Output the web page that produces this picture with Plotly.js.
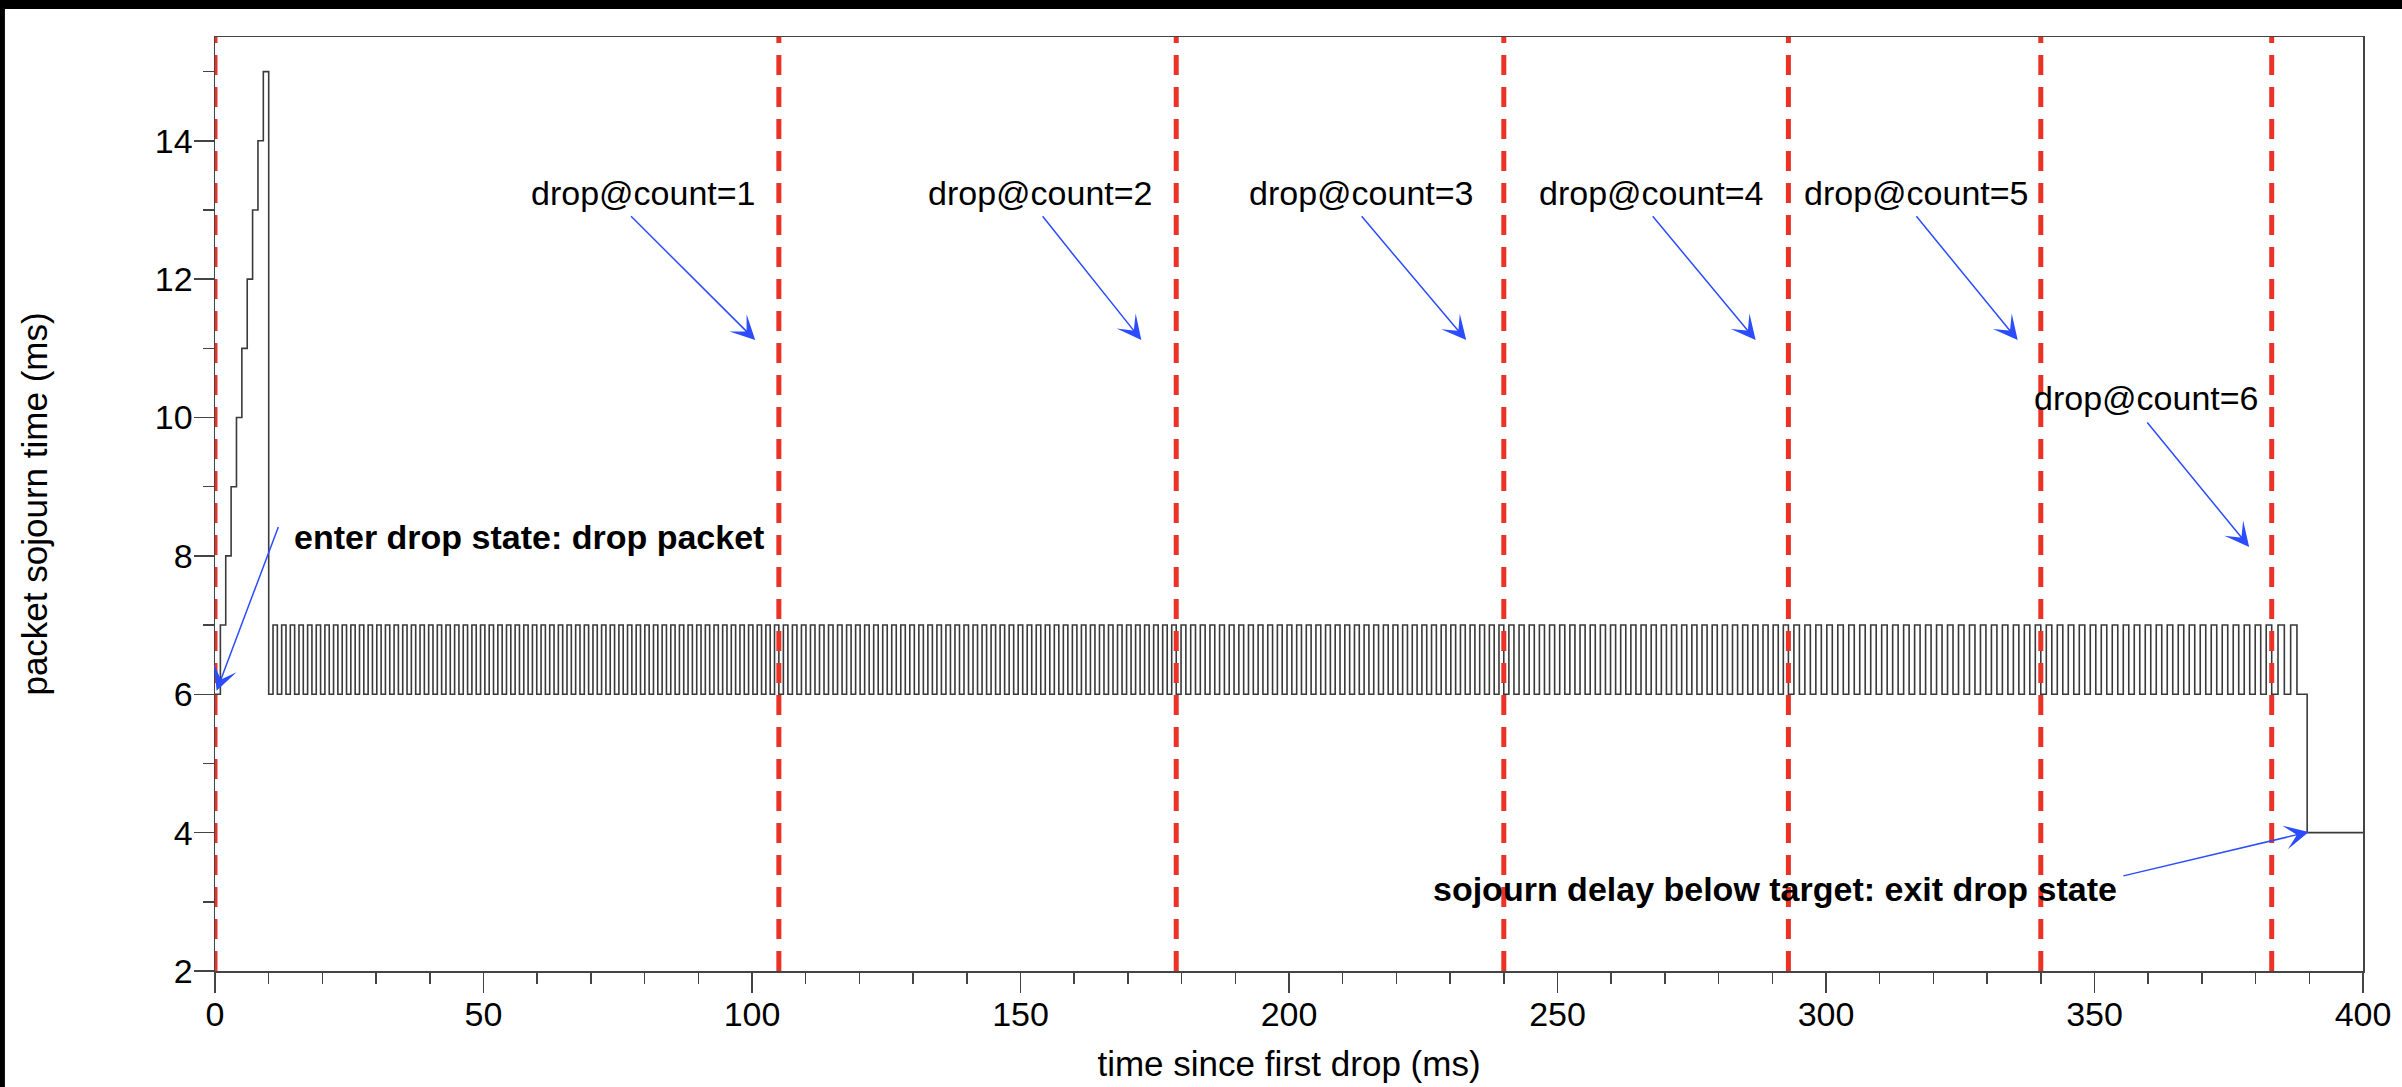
<!DOCTYPE html>
<html>
<head>
<meta charset="utf-8">
<script src="https://cdn.plot.ly/plotly-3.0.1.min.js"></script>
<style>html,body{margin:0;padding:0;background:#fff;}#chart{width:2402px;height:1087px;}</style>
</head>
<body>
<div id="chart"></div>
<script>
// ---- data ----
const dropTimes = [0, 105, 179, 240, 293, 340, 383];          // red dashed lines (ms)
const rampTimes = [0, 1, 2, 3, 4, 5, 6, 7, 8, 9];              // step start times of initial ramp (ms)
const rampValues = [6, 7, 8, 9, 10, 11, 12, 13, 14, 15];       // sojourn (ms)
const oscBounds = [10, 105, 179, 240, 293, 340, 383, 387.7];   // oscillation segment bounds (ms)
const oscPulses = [59, 44, 34, 28, 23, 21, 2];                 // pulses counted per segment
const oscLevels = [6, 7];                                      // low / high sojourn (ms)
const tailTimes = [387.7, 389.6, 400];
const tailValues = [6, 4, 4];
const dropLabels = ['drop@count=1','drop@count=2','drop@count=3','drop@count=4','drop@count=5','drop@count=6'];

// ---- build step series ----
const sx = [], sy = [];
rampTimes.forEach((t, i) => { sx.push(t); sy.push(rampValues[i]); });
for (let k = 0; k < oscPulses.length; k++) {
  const a = oscBounds[k], b = oscBounds[k + 1], n = oscPulses[k], p = (b - a) / n;
  for (let i = 0; i < n; i++) {
    sx.push(a + i * p); sy.push(oscLevels[0]);
    sx.push(a + i * p + p / 2); sy.push(oscLevels[1]);
  }
}
tailTimes.forEach((t, i) => { sx.push(t); sy.push(tailValues[i]); });

const FONT = 'Liberation Sans, Arial, Helvetica, sans-serif';
const traces = [{
  x: sx, y: sy, type: 'scatter', mode: 'lines',
  line: {shape: 'hv', color: '#3a3a3a', width: 1.6},
  hoverinfo: 'skip', showlegend: false
}];
dropTimes.forEach(t => traces.push({
  x: [t, t], y: [2, 15.5], type: 'scatter', mode: 'lines',
  line: {color: '#ea3326', width: 5, dash: '20px,12px'},
  hoverinfo: 'skip', showlegend: false, cliponaxis: false
}));

const labelPos = [[79.8,13.25],[153.7,13.25],[213.5,13.25],[267.5,13.25],[316.8,13.25],[359.6,10.28]];
const arrowPos = [[100.6,11.12,77.2,12.93],[172.5,11.12,153.9,12.93],[233.0,11.12,213.3,12.93],
                  [286.9,11.12,267.5,12.93],[335.7,11.12,316.6,12.93],[378.8,8.13,359.6,9.95]];
const ARROW = {arrowhead: 3, arrowsize: 2.7, arrowwidth: 1.5, arrowcolor: '#2b4cff'};
const annotations = [];
dropLabels.forEach((txt, i) => {
  annotations.push({x: labelPos[i][0], y: labelPos[i][1], xref: 'x', yref: 'y', text: txt,
    showarrow: false, font: {family: FONT, size: 34, color: '#000'}});
  annotations.push(Object.assign({x: arrowPos[i][0], y: arrowPos[i][1], ax: arrowPos[i][2], ay: arrowPos[i][3],
    xref: 'x', yref: 'y', axref: 'x', ayref: 'y', text: '', showarrow: true}, ARROW));
});
annotations.push({x: 14.3, y: 8.27, xref: 'x', yref: 'y', xanchor: 'left', showarrow: false,
  text: '<b>enter drop state: drop packet</b>', font: {family: FONT, size: 34, color: '#000'}});
annotations.push(Object.assign({x: 0.3, y: 6.05, ax: 11.9, ay: 8.44, xref: 'x', yref: 'y', axref: 'x', ayref: 'y',
  text: '', showarrow: true}, ARROW));
annotations.push({x: 354.5, y: 3.19, xref: 'x', yref: 'y', xanchor: 'right', showarrow: false,
  text: '<b>sojourn delay below target: exit drop state</b>', font: {family: FONT, size: 34, color: '#000'}});
annotations.push(Object.assign({x: 389.9, y: 4.01, ax: 355.1, ay: 3.37, xref: 'x', yref: 'y', axref: 'x', ayref: 'y',
  text: '', showarrow: true}, ARROW));

const layout = {
  width: 2402, height: 1087,
  margin: {l: 215, r: 39, t: 37, b: 116, pad: 0},
  paper_bgcolor: '#fff', plot_bgcolor: '#fff',
  font: {family: FONT, size: 34, color: '#000'},
  showlegend: false,
  xaxis: {
    range: [0, 400], dtick: 50, tick0: 0, ticks: 'outside', ticklen: 20, tickwidth: 1.5, tickcolor: '#444',
    minor: {dtick: 10, ticks: 'outside', ticklen: 11, tickwidth: 1.5, tickcolor: '#444'},
    showline: true, mirror: true, linecolor: '#444', linewidth: 1.5,
    showgrid: false, zeroline: false, tickfont: {family: FONT, size: 34, color: '#000'},
    ticklabelstandoff: -7,
    title: {text: 'time since first drop (ms)', font: {family: FONT, size: 35, color: '#000'}, standoff: 19},
    automargin: false, fixedrange: true
  },
  yaxis: {
    range: [2, 15.5], dtick: 2, tick0: 0, ticks: 'outside', ticklen: 20, tickwidth: 1.5, tickcolor: '#444',
    minor: {dtick: 1, ticks: 'outside', ticklen: 11, tickwidth: 1.5, tickcolor: '#444'},
    showline: true, mirror: true, linecolor: '#444', linewidth: 1.5,
    showgrid: false, zeroline: false, tickfont: {family: FONT, size: 34, color: '#000'},
    ticklabelstandoff: -6,
    title: {text: 'packet sojourn time (ms)', font: {family: FONT, size: 35, color: '#000'}, standoff: 96},
    automargin: false, fixedrange: true
  },
  annotations: annotations,
  shapes: [
    {type: 'rect', xref: 'paper', yref: 'paper', x0: -0.11, x1: 1.03, y0: 1.0300, y1: 1.05, fillcolor: '#000', line: {width: 0}, layer: 'above'},
    {type: 'rect', xref: 'paper', yref: 'paper', x0: -0.11, x1: -0.0978, y0: -0.13, y1: 1.05, fillcolor: '#000', line: {width: 0}, layer: 'above'}
  ]
};
Plotly.newPlot('chart', traces, layout, {displayModeBar: false, staticPlot: true});
</script>
</body>
</html>
